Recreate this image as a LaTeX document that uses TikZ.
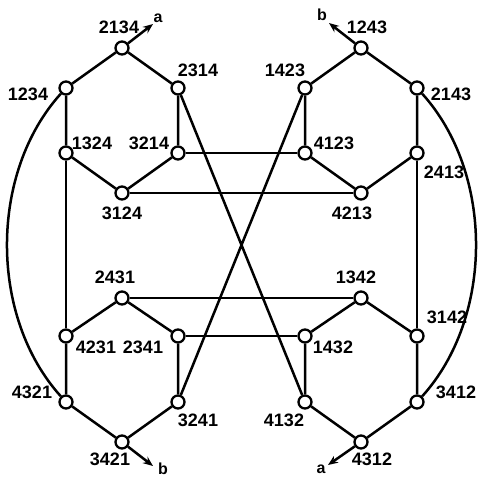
\documentclass[tikz,border=0pt]{standalone}
\usepackage{fontspec}
\setmainfont{Liberation Sans}
\usetikzlibrary{arrows.meta}
\begin{document}
\begin{tikzpicture}[x=1pt,y=-1pt,
  vtx/.style={circle,draw,fill=white,line width=2.3pt,minimum size=13pt,inner sep=0pt},
  lbl/.style={font=\fontsize{18}{18}\selectfont\bfseries,inner sep=0pt},
  ltr/.style={font=\fontsize{16}{16}\selectfont\bfseries,inner sep=0pt},
  edge/.style={line width=2.5pt},
  arr/.style={line width=2.5pt,-{Stealth[length=10pt,width=8pt]}}]
\useasboundingbox (0,0) rectangle (478,479);
% top-left hexagon
\node[vtx] (v2134) at (122,48) {};
\node[vtx] (v1234) at (66,88) {};
\node[vtx] (v2314) at (178,88) {};
\node[vtx] (v1324) at (66,153) {};
\node[vtx] (v3214) at (178,153) {};
\node[vtx] (v3124) at (122,193) {};
% top-right hexagon
\node[vtx] (v1243) at (361,48) {};
\node[vtx] (v1423) at (305,88) {};
\node[vtx] (v2143) at (417,88) {};
\node[vtx] (v4123) at (305,153) {};
\node[vtx] (v2413) at (417,153) {};
\node[vtx] (v4213) at (361,193) {};
% bottom-left hexagon
\node[vtx] (v2431) at (122,298) {};
\node[vtx] (v4231) at (66,336) {};
\node[vtx] (v2341) at (178,336) {};
\node[vtx] (v4321) at (66,402) {};
\node[vtx] (v3241) at (178,402) {};
\node[vtx] (v3421) at (122,442) {};
% bottom-right hexagon
\node[vtx] (v1342) at (361,298) {};
\node[vtx] (v1432) at (305,336) {};
\node[vtx] (v3142) at (417,336) {};
\node[vtx] (v4132) at (305,402) {};
\node[vtx] (v3412) at (417,402) {};
\node[vtx] (v4312) at (361,442) {};
% hexagon edges
\draw[edge] (v2134)--(v1234) (v2134)--(v2314) (v1234)--(v1324) (v2314)--(v3214) (v1324)--(v3124) (v3214)--(v3124);
\draw[edge] (v1243)--(v1423) (v1243)--(v2143) (v1423)--(v4123) (v2143)--(v2413) (v4123)--(v4213) (v2413)--(v4213);
\draw[edge] (v2431)--(v4231) (v2431)--(v2341) (v4231)--(v4321) (v2341)--(v3241) (v4321)--(v3421) (v3241)--(v3421);
\draw[edge] (v1342)--(v1432) (v1342)--(v3142) (v1432)--(v4132) (v3142)--(v3412) (v4132)--(v4312) (v3412)--(v4312);
% cross edges
\draw[edge] (v3214)--(v4123) (v3124)--(v4213) (v2431)--(v1342) (v2341)--(v1432);
\draw[edge] (v1324)--(v4231) (v2413)--(v3142);
\draw[edge] (v2314)--(v4132) (v1423)--(v3241);
\draw[edge] (v1234) .. controls +(-77,85) and +(-77,-85) .. (v4321);
\draw[edge] (v2143) .. controls +(77,85) and +(77,-85) .. (v3412);
% arrows
\coordinate (ea) at (153,24);
\coordinate (eb) at (329,23);
\coordinate (eb2) at (153,466);
\coordinate (ea2) at (328,465);
\draw[arr] (v2134)--(ea);
\draw[arr] (v1243)--(eb);
\draw[arr] (v3421)--(eb2);
\draw[arr] (v4312)--(ea2);
\node[ltr] (la1) at (158,18) {a};
\node[ltr] (lb1) at (322,15) {b};
\node[ltr] (lb2) at (163,469) {b};
\node[ltr] (la2) at (321,469) {a};
% labels
\node[lbl] (t2134) at (119,27) {2134};
\node[lbl] (t2314) at (198,70) {2314};
\node[lbl] (t1234) at (28,94) {1234};
\node[lbl] (t1324) at (92,143) {1324};
\node[lbl] (t3214) at (149,143) {3214};
\node[lbl] (t3124) at (122,213) {3124};
\node[lbl] (t1243) at (367,27) {1243};
\node[lbl] (t1423) at (285,70) {1423};
\node[lbl] (t2143) at (451,94) {2143};
\node[lbl] (t4123) at (334,143) {4123};
\node[lbl] (t2413) at (444,172) {2413};
\node[lbl] (t4213) at (352,213) {4213};
\node[lbl] (t2431) at (115,277) {2431};
\node[lbl] (t4231) at (96,347) {4231};
\node[lbl] (t2341) at (143,347) {2341};
\node[lbl] (t4321) at (32,392) {4321};
\node[lbl] (t3241) at (198,420) {3241};
\node[lbl] (t3421) at (110,459) {3421};
\node[lbl] (t1342) at (356,277) {1342};
\node[lbl] (t3142) at (447,317) {3142};
\node[lbl] (t1432) at (333,347) {1432};
\node[lbl] (t3412) at (456,392) {3412};
\node[lbl] (t4132) at (284,420) {4132};
\node[lbl] (t4312) at (372,459) {4312};
\end{tikzpicture}
\end{document}
